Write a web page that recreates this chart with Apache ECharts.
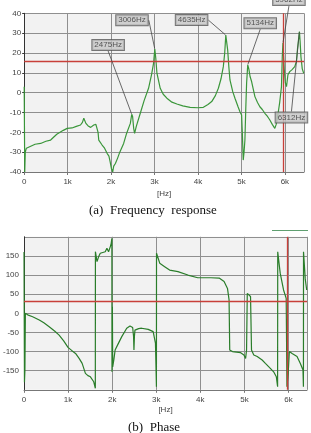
<!DOCTYPE html>
<html>
<head>
<meta charset="utf-8">
<script src="https://cdn.jsdelivr.net/npm/echarts@6/dist/echarts.min.js"></script>
<style>
html,body{margin:0;padding:0;background:#fff;}
#c{width:311px;height:433px;}
</style>
</head>
<body>
<div id="c"></div>
<script>
// ---- Data ----
// (a) Frequency response: [frequency Hz, level dB]
var magnitude = [
[0,3],[12,-40],[25,-30],[50,-28],[73,-27.3],[150,-27],[250,-26],[378,-25.6],[500,-24.5],[608,-23.9],
[750,-21],[900,-19],[990,-18],[1100,-17.8],[1200,-17],[1296,-16.3],[1340,-15],[1372,-12.9],[1420,-15.5],
[1472,-16.8],[1530,-17.5],[1601,-16.3],[1650,-16],[1679,-16.8],[1700,-20],[1716,-23.9],[1760,-24.5],
[1793,-26.4],[1850,-28],[1908,-30.6],[1950,-32],[1980,-35],[2007,-38.2],[2037,-39.9],[2060,-37],
[2099,-35.7],[2150,-33],[2200,-30],[2289,-25.6],[2350,-21],[2443,-15.5],[2475,-10.9],[2495,-12],
[2520,-18],[2541,-20.5],[2580,-17],[2672,-10.4],[2760,-4],[2862,2.2],[2930,9],[2977,14.8],[3006,22],
[3030,17],[3055,9.8],[3131,2.2],[3200,-0.8],[3284,-2.8],[3400,-4.8],[3514,-5.7],[3650,-6.7],[3819,-7.4],
[4000,-7.6],[4124,-7.4],[4230,-6],[4316,-4.5],[4400,-1.5],[4469,2.2],[4530,7],[4583,13.1],[4615,20],
[4640,29],[4655,28],[4683,21.6],[4710,13],[4736,6.4],[4800,0.5],[4851,-2.8],[4920,-7],[4966,-9.6],
[5004,-11.3],[5020,-20],[5041,-34],[5060,-30],[5080,-23.9],[5100,-8],[5119,4.7],[5145,14],[5170,12],
[5200,8],[5234,5.6],[5310,-2],[5370,-5],[5424,-7.1],[5480,-8.5],[5539,-10.4],[5600,-12],[5654,-13.8],
[5710,-16],[5768,-18],[5800,-16],[5844,-10.4],[5880,-5],[5921,3],[5940,18],[5955,25],[5985,12],
[6010,5],[6037,3],[6070,9],[6112,10.6],[6160,11.5],[6227,13.1],[6266,15.7],[6290,22],[6335,30.8],
[6350,26],[6370,18],[6400,12],[6433,9.8]
];
// (b) Phase: [frequency Hz, phase deg]
var phase = [
[0,160],[10,-180],[20,-150],[31,0],[83,-4],[196,-9],[346,-17.5],[450,-25],[571,-35],[700,-47],[796,-57],
[900,-72],[998,-89],[1080,-97],[1169,-105],[1250,-118],[1319,-131],[1393,-157],[1450,-163],[1506,-166],
[1582,-179],[1618,-196],[1620,161],[1656,135],[1700,150],[1730,157],[1843,161],[1881,170],[1918,161],
[1960,175],[1978,183],[1993,196],[1996,-153],[2005,17],[2012,-140],[2040,-120],[2067,-96],[2144,-78],
[2218,-61],[2330,-39],[2404,-33],[2465,-37],[2485,-60],[2494,-96],[2505,-60],[2517,-44],[2600,-40],
[2667,-39],[2818,-42],[2930,-48],[2982,-78],[3004,-192],[3006,157],[3043,144],[3079,131],[3191,122],
[3303,113],[3320,110],[3492,109],[3717,100],[3942,93],[4240,93],[4427,92],[4539,83],[4616,65],[4652,35],
[4667,-96],[4728,-100],[4915,-103],[4989,-109],[5027,-118],[5049,-96],[5065,52],[5101,57],[5139,44],
[5161,-96],[5213,-109],[5290,-113],[5402,-122],[5476,-131],[5513,-126],[5588,-144],[5663,-153],
[5724,-166],[5753,-192],[5756,161],[5775,157],[5812,105],[5888,61],[5948,39],[5965,-192],[5993,-157],
[6020,-100],[6045,-96],[6082,-105],[6194,-113],[6269,-131],[6329,-148],[6339,-192],[6341,161],
[6380,90],[6413,61]
];
// Peak annotations
var annoNames = ['2475Hz','3006Hz','4635Hz','5134Hz','5962Hz','6312Hz'];
var annoPoints = [[2475,-10.9],[3006,22],[4640,29],[5145,14],[5955,25],[6335,30.8]];
// Reference levels / cursor
var magRefLevel = 16;
var phaseRefLevel = 32;
var cursorFreq = 5962;
// Axis ranges and ticks
var freqTickStep = 1000;
var magTicks = {min:-40, max:40, step:10};
var phaseTicks = {min:-200, max:200, step:50};
var captions = ['(a)  Frequency  response', '(b)  Phase'];
var freqUnit = '[Hz]';

// ---- Layout ----
var labelOffsets = [[-23.6,-69.3],[-22.8,-28.8],[-34.2,-15],[12.5,-41.7],[6,-43],[-8,86]];
var FONT = "'Liberation Sans', Arial, sans-serif";
var gridColor = '#8f8f8f';
var red = '#c8403a';

function fmtFreq(v){ return v === 0 ? '0' : (v/1000) + 'k'; }
function yLabelHide(v, lim){ return v > lim || v < -lim; }

var chart = echarts.init(document.getElementById('c'), null, {renderer:'canvas'});
var option = {
  animation: false,
  backgroundColor: '#ffffff',
  title: [
    {text: captions[0], left: 84, top: 199,
     textStyle:{fontFamily:"'Liberation Serif','Times New Roman',serif", fontSize:13, fontWeight:'normal', color:'#111'}},
    {text: captions[1], left: 123, top: 416,
     textStyle:{fontFamily:"'Liberation Serif','Times New Roman',serif", fontSize:13, fontWeight:'normal', color:'#111'}}
  ],
  grid: [
    {left: 24.2, top: 13.3, width: 279.8, height: 158.7, show: true, backgroundColor: '#f2f2f2', borderWidth: 0, containLabel: false},
    {left: 21.2, top: 236.8, width: 285.8, height: 153, show: true, backgroundColor: '#f2f2f2', borderWidth: 0, containLabel: false}
  ],
  xAxis: [
    {type:'value', gridIndex:0, min:0, max:6440, interval:freqTickStep,
     name: freqUnit, nameLocation:'middle', nameGap:18,
     nameTextStyle:{fontFamily:FONT, fontSize:8, color:'#444'},
     axisLine:{show:true, onZero:false, lineStyle:{color:'#777', width:1}},
     axisTick:{show:true, length:3, lineStyle:{color:'#777'}},
     axisLabel:{fontFamily:FONT, fontSize:8, color:'#444', margin:6, formatter: fmtFreq, showMaxLabel:false},
     splitLine:{show:true, lineStyle:{color:gridColor, width:1}}},
    {type:'value', gridIndex:1, min:0, max:6420, interval:freqTickStep,
     name: freqUnit, nameLocation:'middle', nameGap:16,
     nameTextStyle:{fontFamily:FONT, fontSize:8, color:'#444'},
     axisLine:{show:true, onZero:false, lineStyle:{color:'#777', width:1}},
     axisTick:{show:true, length:3, lineStyle:{color:'#777'}},
     axisLabel:{fontFamily:FONT, fontSize:8, color:'#444', margin:6, formatter: fmtFreq, showMaxLabel:false},
     splitLine:{show:true, lineStyle:{color:gridColor, width:1}}}
  ],
  yAxis: [
    {type:'value', gridIndex:0, min:magTicks.min, max:magTicks.max, interval:magTicks.step,
     axisLine:{show:true, onZero:false, lineStyle:{color:'#333', width:1}},
     axisTick:{show:true, length:2, lineStyle:{color:'#333'}},
     axisLabel:{fontFamily:FONT, fontSize:8, color:'#444', margin:3},
     splitLine:{show:true, lineStyle:{color:gridColor, width:1}}},
    {type:'value', gridIndex:1, min:phaseTicks.min, max:phaseTicks.max, interval:phaseTicks.step,
     axisLine:{show:true, onZero:false, lineStyle:{color:'#333', width:1}},
     axisTick:{show:false},
     axisLabel:{fontFamily:FONT, fontSize:8, color:'#444', margin:5,
       formatter: function(v){ return yLabelHide(v,150) ? '' : String(v); }},
     splitLine:{show:true, lineStyle:{color:gridColor, width:1}}}
  ],
  series: [
    {type:'line', xAxisIndex:0, yAxisIndex:0, data: magnitude, showSymbol:false, symbol:'none',
     lineStyle:{color:'#3a963a', width:1.2}, z:3,
     markLine:{silent:true, symbol:'none', label:{show:false},
       lineStyle:{color:red, width:1.3, type:'solid'},
       data:[{yAxis: magRefLevel}, {xAxis: cursorFreq}]}},
    {type:'scatter', xAxisIndex:0, yAxisIndex:0, symbolSize:1,
     itemStyle:{color:'rgba(0,0,0,0)'}, z:5,
     data: annoPoints.map(function(p,i){ return {value:p, name:annoNames[i]}; }),
     label:{show:true, position:'inside', formatter:'{b}', fontFamily:FONT, fontSize:8, color:'#333',
       backgroundColor:'#c6c6c6', borderColor:'#555', borderWidth:1, padding:[1,2,1,2]},
     labelLine:{show:true, lineStyle:{color:'#444', width:0.8}},
     labelLayout: function(p){ var o = labelOffsets[p.dataIndex]; return {dx:o[0], dy:o[1]}; }},
    {type:'line', xAxisIndex:1, yAxisIndex:1, data: phase, showSymbol:false, symbol:'none',
     lineStyle:{color:'#2a7d2a', width:1.2}, z:3,
     markLine:{silent:true, symbol:'none', label:{show:false},
       lineStyle:{color:red, width:1.3, type:'solid'},
       data:[{yAxis: phaseRefLevel}, {xAxis: cursorFreq}]}}
  ],
  graphic: [
    {type:'line', shape:{x1:272, y1:230.5, x2:308, y2:230.5}, style:{stroke:'#5f9f70', lineWidth:1}}
  ]
};
chart.setOption(option);
</script>
</body>
</html>
